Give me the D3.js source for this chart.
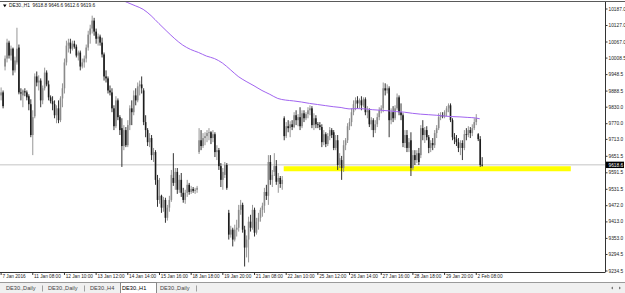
<!DOCTYPE html>
<html>
<head>
<meta charset="utf-8">
<script src="https://cdn.jsdelivr.net/npm/d3@7"></script>
<style>
  body { margin: 0; background: #fff; }
  svg { display: block; font-family: "Liberation Sans", Arial, sans-serif; }
</style>
</head>
<body>
<div class="chart"></div>
<script>
var svgWidth = 625;
var svgHeight = 293;

// chart area (right price scale, bottom time scale, tab bar)
var plotRight = 605;
var plotTop = 2;
var plotBottom = 272;

// DE30 H1 candles: open, high, low, close
var bars = [
  [9871,9900,9853,9882],[9882,9889,9824,9832],[9976,10016,9962,10005],[10005,10077,9991,10063],
  [10063,10070,10005,10016],[10016,10052,9998,10041],[10041,10045,9944,9962],[9962,10012,9954,9998],
  [9991,10117,9983,10041],[10045,10056,9875,9882],[9882,9897,9853,9878],[9871,9893,9828,9889],
  [9886,9897,9868,9882],[9882,9889,9853,9864],[9868,9875,9817,9839],[9839,9857,9719,9727],
  [9727,9817,9654,9792],[9795,9951,9788,9940],[9940,9958,9904,9918],[9918,9944,9889,9925],
  [9925,9933,9828,9853],[9853,9907,9839,9897],[9897,9972,9889,9954],[9954,9962,9904,9911],
  [9911,9925,9853,9864],[9864,9871,9842,9850],[9850,9868,9817,9839],[9839,9853,9788,9799],
  [9799,9835,9770,9824],[9824,9853,9770,9781],[9781,9868,9774,9860],[9860,9915,9828,9897],
  [9897,10005,9878,9991],[9991,10070,9980,10052],[10052,10077,10027,10063],[10063,10077,10023,10041],
  [10041,10070,10034,10059],[10059,10070,10041,10048],[10048,10056,10009,10016],[10016,10034,9998,10027],
  [10027,10034,9962,9976],[9976,10005,9969,9991],[9991,10016,9972,10005],[10005,10056,9991,10045],
  [10045,10106,10034,10092],[10092,10128,10059,10114],[10114,10161,10096,10143],[10143,10153,10088,10103],
  [10103,10114,10059,10077],[10077,10096,10052,10085],[10085,10092,10052,10063],[10063,10081,10009,10020],
  [10020,10027,9925,9940],[9940,9962,9918,9933],[9933,9940,9878,9889],[9889,9907,9871,9882],
  [9882,9897,9810,9824],[9824,9835,9745,9759],[9759,9868,9752,9853],[9853,9860,9781,9792],
  [9792,9799,9727,9745],[9752,9788,9611,9687],[9687,9763,9672,9745],[9745,9756,9683,9690],
  [9690,9781,9683,9763],[9763,9835,9745,9824],[9824,9853,9763,9810],[9810,9889,9799,9871],
  [9871,9897,9835,9853],[9853,9918,9846,9904],[9904,9925,9871,9911],[9911,9940,9878,9897],
  [9889,9897,9763,9774],[9774,9799,9719,9745],[9745,9752,9687,9701],[9701,9734,9683,9716],
  [9716,9727,9636,9654],[9654,9680,9629,9665],[9665,9672,9546,9564],[9564,9582,9466,9491],
  [9491,9571,9477,9506],[9506,9510,9444,9463],[9463,9502,9448,9491],[9491,9499,9408,9426],
  [9426,9473,9416,9463],[9463,9506,9448,9491],[9491,9600,9484,9582],[9571,9661,9542,9553],
  [9553,9607,9528,9593],[9593,9607,9513,9528],[9528,9582,9517,9564],[9564,9589,9502,9517],
  [9517,9535,9481,9491],[9491,9528,9477,9517],[9517,9564,9502,9546],[9546,9553,9510,9520],
  [9520,9542,9513,9531],[9531,9538,9517,9524],[9524,9535,9513,9528],[9528,9542,9517,9535],
  [9665,9752,9658,9708],[9708,9745,9672,9687],[9687,9734,9680,9716],[9716,9737,9690,9723],
  [9723,9745,9701,9734],[9734,9752,9708,9737],[9737,9741,9694,9716],[9716,9745,9701,9730],
  [9730,9737,9647,9665],[9665,9690,9636,9672],[9672,9680,9600,9614],[9614,9625,9538,9564],
  [9564,9607,9528,9593],[9582,9629,9571,9618],[9618,9625,9528,9535],[9444,9455,9347,9365],
  [9365,9397,9354,9383],[9383,9390,9322,9347],[9347,9401,9340,9383],[9383,9419,9358,9390],
  [9390,9473,9376,9455],[9455,9491,9437,9473],[9473,9481,9372,9383],[9383,9397,9249,9318],
  [9318,9362,9282,9347],[9347,9430,9264,9412],[9412,9437,9376,9390],[9390,9473,9383,9455],
  [9455,9463,9358,9372],[9372,9426,9365,9412],[9412,9444,9383,9426],[9426,9463,9412,9455],
  [9455,9481,9430,9470],[9470,9535,9444,9520],[9520,9546,9491,9506],[9506,9654,9473,9629],
  [9629,9654,9546,9564],[9564,9600,9538,9582],[9593,9661,9578,9614],[9614,9636,9546,9557],
  [9557,9589,9517,9571],[9571,9578,9535,9549],[9549,9578,9528,9564],[9788,9795,9708,9723],
  [9723,9774,9716,9759],[9759,9781,9737,9752],[9752,9777,9719,9766],[9766,9781,9745,9756],
  [9756,9810,9752,9799],[9799,9817,9763,9781],[9781,9803,9759,9792],[9792,9828,9745,9759],
  [9759,9817,9752,9806],[9806,9817,9774,9788],[9788,9810,9781,9803],[9803,9828,9788,9817],
  [9817,9835,9799,9824],[9824,9832,9752,9763],[9763,9806,9745,9788],[9788,9799,9752,9766],
  [9766,9774,9752,9763],[9763,9774,9745,9756],[9756,9766,9683,9701],[9701,9745,9690,9730],
  [9730,9737,9683,9694],[9694,9734,9687,9723],[9723,9756,9708,9745],[9745,9752,9716,9727],
  [9737,9745,9672,9680],[9680,9727,9672,9708],[9708,9727,9600,9618],[9618,9661,9607,9643],
  [9636,9651,9564,9607],[9607,9708,9593,9690],[9690,9716,9672,9708],[9708,9770,9698,9759],
  [9759,9788,9745,9774],[9774,9824,9759,9810],[9810,9853,9799,9839],[9839,9864,9817,9853],
  [9853,9868,9824,9842],[9842,9860,9824,9853],[9853,9868,9817,9835],[9835,9864,9828,9857],
  [9857,9864,9799,9810],[9810,9832,9788,9817],[9817,9824,9756,9766],[9766,9792,9745,9781],
  [9781,9788,9719,9745],[9745,9781,9734,9766],[9766,9806,9756,9792],[9792,9828,9781,9817],
  [9817,9835,9806,9824],[9824,9918,9810,9897],[9897,9915,9871,9889],[9889,9911,9878,9897],
  [9897,9904,9719,9781],[9781,9824,9766,9810],[9810,9832,9774,9788],[9788,9835,9781,9824],
  [9824,9878,9817,9864],[9864,9871,9799,9810],[9810,9842,9781,9799],[9799,9806,9683,9698],
  [9698,9745,9680,9727],[9727,9745,9665,9680],[9680,9716,9665,9701],[9708,9737,9578,9607],
  [9607,9672,9600,9654],[9654,9672,9618,9636],[9636,9672,9625,9661],[9661,9680,9618,9629],
  [9654,9763,9643,9752],[9752,9781,9708,9727],[9727,9756,9698,9745],[9745,9759,9708,9719],
  [9719,9727,9661,9680],[9680,9708,9665,9698],[9698,9716,9672,9690],[9690,9745,9680,9734],
  [9734,9763,9716,9752],[9752,9806,9745,9792],[9792,9810,9781,9799],[9799,9810,9788,9795],
  [9795,9817,9788,9810],[9810,9832,9795,9824],[9824,9842,9810,9835],[9835,9842,9774,9781],
  [9781,9788,9708,9719],[9719,9734,9694,9712],[9712,9727,9687,9701],[9701,9716,9665,9680],
  [9680,9708,9654,9698],[9698,9708,9636,9680],[9680,9745,9672,9730],[9730,9752,9708,9727],
  [9727,9759,9719,9745],[9745,9756,9716,9734],[9734,9766,9723,9752],[9752,9788,9745,9774],
  [9774,9803,9763,9788],[9730,9734,9705,9712],[9712,9723,9611,9618],[9618.8,9646.6,9612.6,9618.6]
];

// moving average: [bar index, value]
var maPoints = [
  [56,10236],[60,10222],[64,10209],[68,10197],[72,10184],[76,10161],[80,10132],[84,10104],
  [88,10077],[92,10054],[96,10038],[100,10027],[104,10014],[108,10005],[112,9989],[116,9965],
  [120,9940],[124,9922],[128,9906],[132,9889],[136,9875],[140,9860],[144,9854],[148,9851],
  [152,9847],[156,9842],[160,9838],[164,9834],[168,9830],[172,9827],[176,9822],[180,9823],
  [184,9822],[188,9819],[192,9817],[196,9815],[200,9812],[204,9810],[208,9806],[212,9803],
  [216,9801],[220,9799],[224,9796],[228,9794],[232,9793],[236,9791],[240,9789],[242,9786]
];

// support line drawn on the chart
var supportLevel = 9604;
var supportFrom = 143;
var supportTo = 288;

var lastPrice = 9618.6;
var headerText = "DE30.,H1  9618.8 9646.6 9612.6 9619.6";

var priceTicks = [10187.0, 10127.0, 10067.0, 10008.5, 9948.5, 9888.5, 9830.0, 9770.0, 9713.0,
  9651.5, 9591.5, 9531.5, 9472.0, 9413.0, 9353.0, 9294.5, 9234.5];

var timeTickBars = [0, 16, 32, 48, 64, 80, 96, 112, 128, 144, 160, 176, 192, 208, 224, 240];
var timeLabels = ["7 Jan 2016", "11 Jan 08:00", "12 Jan 10:00", "13 Jan 12:00", "14 Jan 14:00",
  "15 Jan 16:00", "18 Jan 18:00", "19 Jan 20:00", "21 Jan 08:00", "22 Jan 10:00", "25 Jan 12:00",
  "26 Jan 14:00", "27 Jan 16:00", "28 Jan 18:00", "29 Jan 20:00", "2 Feb 08:00"];

var tabs = ["DE30.,Daily", "DE30.,Daily", "DE30.,H4", "DE30.,H1", "DE30.,Daily"];
var activeTab = 3;

var svg = d3.select(".chart")
  .append("svg")
  .attr("width", svgWidth)
  .attr("height", svgHeight);

var xScale = d3.scaleLinear().domain([0, 243]).range([0.6, 481.7]);
var yScale = d3.scaleLinear().domain([9234.5, 10187]).range([270.5, 8.5]);

svg.append("defs").append("clipPath")
  .attr("id", "plot-clip")
  .append("rect")
  .attr("x", 0).attr("y", plotTop)
  .attr("width", plotRight).attr("height", plotBottom - plotTop);

var plot = svg.append("g").attr("clip-path", "url(#plot-clip)");

// last price line
plot.append("line")
  .attr("x1", 0).attr("x2", plotRight)
  .attr("y1", yScale(lastPrice)).attr("y2", yScale(lastPrice))
  .attr("stroke", "#c4c4c4")
  .attr("stroke-width", 1);

// yellow support line
plot.append("line")
  .attr("x1", xScale(supportFrom)).attr("x2", xScale(supportTo))
  .attr("y1", yScale(supportLevel)).attr("y2", yScale(supportLevel))
  .attr("stroke", "#ffff00")
  .attr("stroke-width", 5);

// candles
var candles = plot.selectAll("g.candle")
  .data(bars)
  .enter()
  .append("g")
  .attr("class", "candle");

function candleColor(d) {
  return d[3] >= d[0] ? "#8a8a8a" : "#1c1c1c";
}

candles.append("line")
  .attr("x1", (d, i) => xScale(i) + 0.5)
  .attr("x2", (d, i) => xScale(i) + 0.5)
  .attr("y1", d => yScale(d[1]))
  .attr("y2", d => yScale(d[2]))
  .attr("stroke", candleColor)
  .attr("stroke-width", 0.9);

candles.append("rect")
  .attr("x", (d, i) => xScale(i) - 0.3)
  .attr("width", 1.6)
  .attr("y", d => yScale(Math.max(d[0], d[3])))
  .attr("height", d => Math.max(0.8, Math.abs(yScale(d[0]) - yScale(d[3]))))
  .attr("fill", candleColor);

// moving average
var maLine = d3.line()
  .x(d => xScale(d[0]))
  .y(d => yScale(d[1]))
  .curve(d3.curveMonotoneX);

plot.append("path")
  .datum(maPoints)
  .attr("d", maLine)
  .attr("fill", "none")
  .attr("stroke", "#a164f0")
  .attr("stroke-width", 1);

// frame
svg.append("line")
  .attr("x1", 0).attr("x2", svgWidth)
  .attr("y1", 1.5).attr("y2", 1.5)
  .attr("stroke", "#5a5a5a").attr("stroke-width", 1);

// price axis
var priceAxis = d3.axisRight(yScale)
  .tickValues(priceTicks)
  .tickFormat(d3.format(".1f"))
  .tickSize(2)
  .tickSizeOuter(0)
  .tickPadding(1.5);

var yAxisG = svg.append("g")
  .attr("transform", `translate(${plotRight}, 0)`)
  .call(priceAxis);

yAxisG.select(".domain")
  .attr("d", `M0.5,${plotTop}V${plotBottom}`)
  .attr("stroke", "#333");
yAxisG.selectAll(".tick line").attr("stroke", "#333").attr("transform", "translate(0.5,0)");
yAxisG.selectAll(".tick text")
  .attr("font-size", 4.8)
  .attr("fill", "#222")
  .attr("font-family", "Liberation Sans, Arial, sans-serif");

// time axis
var timeAxis = d3.axisBottom(xScale)
  .tickValues(timeTickBars)
  .tickFormat((d, i) => timeLabels[i])
  .tickSize(3)
  .tickSizeOuter(0)
  .tickPadding(1.5);

var xAxisG = svg.append("g")
  .attr("transform", `translate(0, ${plotBottom})`)
  .call(timeAxis);

xAxisG.select(".domain")
  .attr("d", `M0,0.5H${plotRight + 0.5}`)
  .attr("stroke", "#333");
xAxisG.selectAll(".tick line").attr("stroke", "#333");
xAxisG.selectAll(".tick text")
  .attr("text-anchor", "start")
  .attr("x", 1.3)
  .attr("y", 2.4)
  .attr("font-size", 4.7)
  .attr("fill", "#222")
  .attr("font-family", "Liberation Sans, Arial, sans-serif");

// last price tag
var tagY = yScale(lastPrice);
svg.append("rect")
  .attr("x", plotRight + 1).attr("y", tagY - 3.2)
  .attr("width", svgWidth - plotRight - 2).attr("height", 6.4)
  .attr("fill", "#000");
svg.append("text")
  .attr("x", plotRight + 3.5).attr("y", tagY)
  .attr("dy", "0.35em")
  .attr("font-size", 4.8)
  .attr("fill", "#fff")
  .text(d3.format(".1f")(lastPrice));

// header
svg.append("path")
  .attr("d", "M3,4.5L6.6,4.5L4.8,7.2Z")
  .attr("fill", "#000");
svg.append("text")
  .attr("x", 9).attr("y", 7.4)
  .attr("font-size", 4.8)
  .attr("fill", "#111")
  .attr("xml:space", "preserve")
  .style("white-space", "pre")
  .text(headerText);

// tab bar
var tabBar = svg.append("g").attr("transform", "translate(0, 282)");
tabBar.append("rect")
  .attr("x", 0).attr("y", 0)
  .attr("width", svgWidth).attr("height", svgHeight - 282)
  .attr("fill", "#f0f0f0");
tabBar.append("line")
  .attr("x1", 0).attr("x2", svgWidth)
  .attr("y1", 0.5).attr("y2", 0.5)
  .attr("stroke", "#9a9a9a");

var tabX = [4, 46, 88, 120, 158];
var tabW = [38, 38, 28, 36, 38];
tabs.forEach(function(t, i) {
  if (i === activeTab) {
    tabBar.append("rect")
      .attr("x", tabX[i] + 0.5).attr("y", 0.5)
      .attr("width", tabW[i]).attr("height", 11)
      .attr("fill", "#fff")
      .attr("stroke", "#8a8a8a");
  }
  tabBar.append("text")
    .attr("x", tabX[i] + 2).attr("y", 8.3)
    .attr("font-size", 5.6)
    .attr("fill", i === activeTab ? "#000" : "#444")
    .text(t);
  if (i !== activeTab && i + 1 !== activeTab) {
    tabBar.append("line")
      .attr("x1", tabX[i] + tabW[i] + 0.5).attr("x2", tabX[i] + tabW[i] + 0.5)
      .attr("y1", 3.5).attr("y2", 9.5)
      .attr("stroke", "#a0a0a0");
  }
});

// scroll arrows
tabBar.append("path").attr("d", "M611,6L613,4.6L613,7.4Z").attr("fill", "#777");
tabBar.append("path").attr("d", "M619,4.6L621,6L619,7.4Z").attr("fill", "#777");
</script>
</body>
</html>
